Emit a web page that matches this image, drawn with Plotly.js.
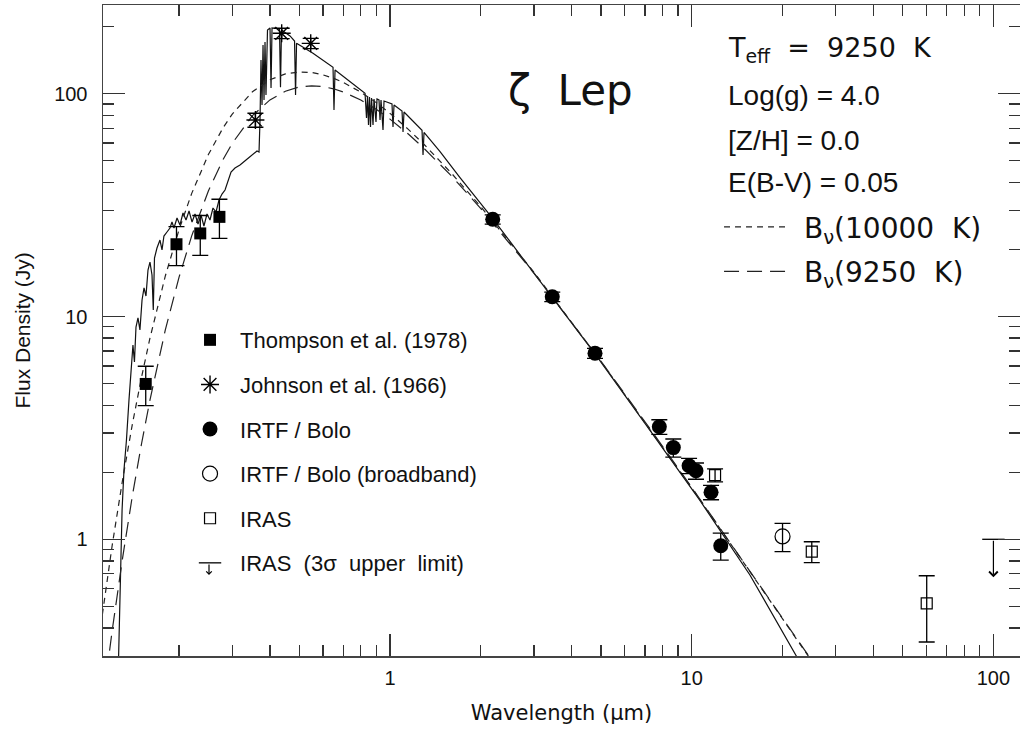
<!DOCTYPE html>
<html><head><meta charset="utf-8">
<script src="https://cdn.plot.ly/plotly-3.0.1.min.js"></script>
<style>html,body{margin:0;padding:0;background:#fff;overflow:hidden}</style>
</head><body><div id="chart" style="width:1020px;height:729px"></div>
<script>
// ---- model atmosphere spectrum ----
const modelWavelength = [0.1257,0.1269,0.1279,0.1294,0.1313,0.1338,0.1364,0.1390,0.1406,0.1422,0.1439,0.1461,0.1483,0.1507,0.1530,0.1553,0.1577,0.1601,0.1626,0.1642,0.1657,0.1689,0.1728,0.1755,0.1781,0.1823,0.1865,0.1894,0.1923,0.1968,0.2013,0.2060,0.2108,0.2157,0.2207,0.2258,0.2310,0.2363,0.2417,0.2474,0.2531,0.2590,0.2650,0.2712,0.2774,0.2839,0.2904,0.2972,0.3063,0.3183,0.3332,0.3487,0.3623,0.3680,0.3708,0.3736,0.3765,0.3794,0.3823,0.3852,0.3881,0.3926,0.4002,0.4033,0.4064,0.4302,0.4335,0.4368,0.4662,0.4826,0.4863,0.4900,0.5555,0.6473,0.6521,0.6573,0.7755,0.8264,0.8358,0.8422,0.8486,0.8551,0.8617,0.8684,0.8783,0.8851,0.8986,0.9055,0.9194,0.9266,0.9337,0.9480,0.9552,1.0153,1.0231,1.0311,1.0960,1.1044,1.1127,1.2767,1.2865,1.2963,1.465,1.706,2.194,2.697,3.444,4.781,7.274,10.66,15.61,22.17,23.21];
const modelFlux = [0.259,0.482,0.807,1.354,2.05,2.79,4.22,5.75,7.45,6.25,8.97,9.85,8.70,11.86,13.43,12.36,16.17,17.56,15.35,10.69,18.30,20.29,22.04,19.89,22.97,23.95,24.96,26.56,24.96,27.68,25.75,29.15,27.11,29.75,26.56,28.84,26.02,28.55,25.48,28.84,27.11,30.69,29.44,33.33,35.46,36.96,41.00,44.54,46.41,47.86,50.40,53.08,55.32,54.75,76.2,141.7,89.0,165.4,93.7,170.7,98.7,193.2,197.2,106.1,197.2,195.2,106.8,193.2,181.6,172.4,98.7,168.4,151.8,131.4,84.5,127.8,106.8,100.4,77.8,97.7,72.4,96.7,70.9,95.7,72.4,94.7,74.7,94.7,93.7,76.2,93.7,68.7,92.7,89.9,70.9,89.0,83.6,67.3,82.8,68.5,53.1,67.0,55.0,42.0,27.4,18.9,12.24,6.79,3.08,1.49,0.69,0.30,0.27];

// ---- blackbody curves ----
const bb10000Wavelength = [0.11,0.115,0.12,0.13,0.14,0.15,0.16,0.18,0.20,0.22,0.25,0.28,0.30,0.35,0.40,0.45,0.50,0.55,0.60,0.65,0.70,0.80,0.90,1.0,1.15,1.3,1.6,2.0,3.0,5.0,7.0,10,15,20,25];
const bb10000Flux = [0.41,0.64,0.94,1.86,3.29,5.31,7.97,15.2,24.6,35.6,53.3,70.5,81.0,102,115.5,122.7,125.2,124.5,121.5,117.3,112.3,101.7,91.2,81.6,69.2,59.0,43.9,31.1,15.8,6.29,3.35,1.70,0.772,0.44,0.284];
const bb9250Wavelength = [0.115,0.12,0.13,0.14,0.15,0.16,0.18,0.20,0.22,0.25,0.28,0.30,0.35,0.40,0.45,0.50,0.55,0.60,0.65,0.70,0.80,0.90,1.0,1.15,1.3,1.6,2.0,3.0,5.0,7.0,10,15,20,25];
const bb9250Flux = [0.25,0.39,0.83,1.57,2.67,4.20,8.70,15.05,22.95,36.6,50.8,59.9,79.7,93.8,102.6,107.2,108.5,107.6,105.2,101.8,93.7,85.1,76.9,65.9,56.6,42.7,30.5,15.66,6.30,3.37,1.71,0.779,0.444,0.286];

// ---- photometry ----
const thompsonWavelength = [0.155,0.196,0.235,0.272];
const thompsonFlux = [4.98,21.1,23.6,28.0];
const thompsonErr = [1.0,4.2,4.8,5.6];

const johnsonWavelength = [0.358,0.4375,0.546];
const johnsonFlux = [76.2,186.7,168.3];
const johnsonErr = [5.5,10,9];

const irtfWavelength = [2.19,3.45,4.78,7.81,8.69,9.80,10.33,11.59,12.48];
const irtfFlux = [27.3,12.27,6.84,3.20,2.58,2.14,2.03,1.625,0.936];
const irtfErr = [1.3,0.6,0.35,0.24,0.24,0.17,0.17,0.12,0.13];

const broadWavelength = [20.0];
const broadFlux = [1.03];
const broadErr = [0.15];

const irasWavelength = [11.95,25.0,60.1];
const irasFlux = [1.94,0.88,0.516];
const irasErr = [0.13,0.095,0.17];

const ulWavelength = [100];
const ulFlux = [1.0];

// ---- tick labels ----
const xTickVals = [1,10,100];
const xTickText = ['1','10','100'];
const xMinorVals = [0.2,0.3,0.4,0.5,0.6,0.7,0.8,0.9,2,3,4,5,6,7,8,9,20,30,40,50,60,70,80,90];
const yTickVals = [1,10,100];
const yTickText = ['1','10','100'];
const yMinorVals = [0.4,0.5,0.6,0.7,0.8,0.9,2,3,4,5,6,7,8,9,20,30,40,50,60,70,80,90,200];

const sans = 'Liberation Sans, Arial, Helvetica, sans-serif';
const hershey = 'DejaVu Sans, sans-serif';
const ink = '#111';

function errBar(arr){ return {type:'data', array:arr, color:'#000', thickness:1.3, width:8, visible:true}; }

const traces = [
  {x:modelWavelength, y:modelFlux, mode:'lines', line:{color:ink, width:1.2}, showlegend:false, hoverinfo:'skip'},
  {x:bb10000Wavelength, y:bb10000Flux, mode:'lines', line:{color:'#222', width:1.2, dash:'6px,5px'},
   name:'\u00A0B<sub>\u03BD</sub>(10000\u00A0\u00A0K)', legend:'legend2', legendgroup:'b1'},
  {x:bb9250Wavelength, y:bb9250Flux, mode:'lines', line:{color:'#222', width:1.2, dash:'15px,8px'},
   name:'\u00A0B<sub>\u03BD</sub>(9250\u00A0\u00A0K)', legend:'legend2', legendgroup:'b2'},
  {x:thompsonWavelength, y:thompsonFlux, mode:'markers', name:'Thompson et al. (1978)', legendgroup:'g1',
   marker:{symbol:'square', size:12, color:'#000'}, error_y:errBar(thompsonErr)},
  {x:johnsonWavelength, y:johnsonFlux, mode:'markers', name:'Johnson et al. (1966)', legendgroup:'g2',
   marker:{symbol:'asterisk-open', size:15, color:'#000', line:{color:'#000', width:1.4}}, error_y:errBar(johnsonErr)},
  {x:irtfWavelength, y:irtfFlux, mode:'markers', name:'IRTF / Bolo', legendgroup:'g3',
   marker:{symbol:'circle', size:15, color:'#000'}, error_y:errBar(irtfErr)},
  {x:broadWavelength, y:broadFlux, mode:'markers', name:'IRTF / Bolo (broadband)', legendgroup:'g4',
   marker:{symbol:'circle-open', size:15, color:'#000', line:{color:'#000', width:1.2}}, error_y:errBar(broadErr)},
  {x:irasWavelength, y:irasFlux, mode:'markers', name:'IRAS', legendgroup:'g5',
   marker:{symbol:'square-open', size:11, color:'#000', line:{color:'#000', width:1.2}}, error_y:errBar(irasErr)},
  {x:ulWavelength, y:ulFlux, mode:'markers', name:'IRAS\u00A0\u00A0(3\u03C3\u00A0\u00A0upper\u00A0\u00A0limit)', legendgroup:'g6',
   marker:{symbol:'line-ew-open', size:16, color:'#000', line:{color:'#000', width:1.3}}}
];

const annotations = [
  {xref:'paper', yref:'paper', x:-0.0883, y:0.5, xanchor:'center', yanchor:'middle', showarrow:false, textangle:-90,
   text:'Flux Density (Jy)', font:{family:sans, size:21, color:ink}},
  {xref:'paper', yref:'paper', x:0.5093, y:0.868, xanchor:'center', yanchor:'middle', showarrow:false,
   text:'\u03B6\u00A0\u00A0Lep', font:{family:hershey, size:42, color:ink}},
  {xref:'paper', yref:'paper', x:0.6794, y:0.9309, xanchor:'left', yanchor:'middle', showarrow:false,
   text:'T<sub>eff</sub>\u00A0\u00A0=\u00A0\u00A09250\u00A0\u00A0K', font:{family:hershey, size:27, color:ink}},
  {xref:'paper', yref:'paper', x:0.6794, y:0.8610, xanchor:'left', yanchor:'middle', showarrow:false,
   text:'Log(g) = 4.0', font:{family:sans, size:28, color:ink}},
  {xref:'paper', yref:'paper', x:0.6794, y:0.7926, xanchor:'left', yanchor:'middle', showarrow:false,
   text:'[Z/H] = 0.0', font:{family:sans, size:28, color:ink}},
  {xref:'paper', yref:'paper', x:0.6794, y:0.7266, xanchor:'left', yanchor:'middle', showarrow:false,
   text:'E(B-V) = 0.05', font:{family:sans, size:28, color:ink}},
  // upper-limit arrow, drawn from the limit value downwards
  {xref:'x', yref:'y', axref:'x', ayref:'y',
   x:Math.log10(ulWavelength[0]), y:Math.log10(ulFlux[0]) - 0.17,
   ax:Math.log10(ulWavelength[0]), ay:Math.log10(ulFlux[0]),
   showarrow:true, arrowhead:4, arrowsize:1.4, arrowwidth:1.2, arrowcolor:'#000', text:''},
  // little arrow completing the legend symbol of the upper limit
  {xref:'paper', yref:'paper', x:0.1156, y:0.1244, ax:0, ay:-12,
   showarrow:true, arrowhead:4, arrowsize:0.9, arrowwidth:1.2, arrowcolor:'#000', text:''}
];

const axisCommon = {
  type:'log', showline:true, linecolor:'#444', linewidth:1.5, mirror:'ticks',
  ticks:'inside', ticklen:22, tickwidth:1.3, tickcolor:'#333', showgrid:false, zeroline:false,
  tickmode:'array', tickfont:{family:sans, size:20, color:ink}, automargin:false
};

const layout = {
  width:1020, height:729,
  margin:{l:103, r:0, t:5, b:73},
  paper_bgcolor:'#fff', plot_bgcolor:'#fff',
  showlegend:true,
  xaxis: Object.assign({}, axisCommon, {
    range:[-0.9513, 2.0881], tickvals:xTickVals, ticktext:xTickText, ticklabelstandoff:3,
    minor:{tickmode:'array', tickvals:xMinorVals, ticks:'inside', ticklen:11, tickwidth:1.3, tickcolor:'#333', showgrid:false},
    title:{text:'Wavelength (\u03BCm)', font:{family:hershey, size:21, color:ink}, standoff:18}
  }),
  yaxis: Object.assign({}, axisCommon, {
    range:[-0.5238, 2.3981], tickvals:yTickVals, ticktext:yTickText, ticklabelstandoff:10,
    minor:{tickmode:'array', tickvals:yMinorVals, ticks:'inside', ticklen:11, tickwidth:1.3, tickcolor:'#333', showgrid:false}
  }),
  legend:{x:0.084, y:0.5176, xanchor:'left', yanchor:'top', bgcolor:'rgba(0,0,0,0)', borderwidth:0,
    font:{family:sans, size:22, color:ink}, itemwidth:50, tracegroupgap:13, traceorder:'grouped'},
  legend2:{x:0.6718, y:0.697, xanchor:'left', yanchor:'top', bgcolor:'rgba(0,0,0,0)', borderwidth:0,
    font:{family:hershey, size:28, color:ink}, itemwidth:66, tracegroupgap:5, traceorder:'grouped'},
  annotations: annotations
};

Plotly.newPlot('chart', traces, layout, {displayModeBar:false, staticPlot:true});
</script></body></html>
